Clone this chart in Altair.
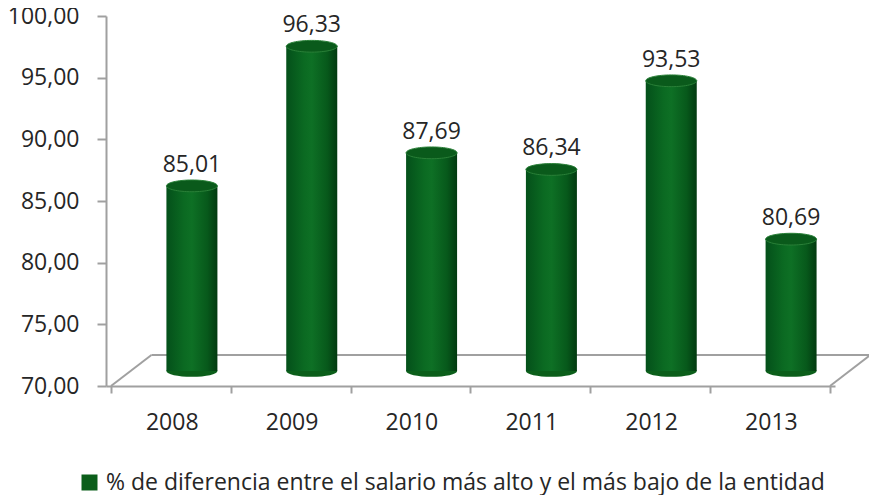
import altair as alt
import pandas as pd

years = ['2008', '2009', '2010', '2011', '2012', '2013']
values = [85.01, 96.33, 87.69, 86.34, 93.53, 80.69]
serie = '% de diferencia entre el salario más alto y el más bajo de la entidad'

df = pd.DataFrame({
    'pos': [i + 0.5 for i in range(len(years))],
    'year': years,
    'value': values,
    'base': [70] * len(years),
    'serie': [serie] * len(years),
})
df['label'] = [f"{v:.2f}".replace('.', ',') for v in values]

FONT = 'Open Sans'
FS = 23
TXT = '#262626'
GRAY = '#A0A0A0'
DX, DY = 21, -15          # 3D depth offset of the cylinders (px)
FDX, FDY = 41, -31        # 3D depth of the floor (px)
W, H = 729, 370
YMIN, YMAX = 70, 100
N = len(years)

years_js = '[' + ','.join(f"'{y}'" for y in years) + ']'

xscale = alt.Scale(domain=[0, N], nice=False, zero=False)
yscale = alt.Scale(domain=[YMIN, YMAX], nice=False, zero=False)

x_axis = alt.Axis(
    values=list(range(N + 1)),
    labelExpr=f"datum.value < {N} ? {years_js}[datum.value] : ''",
    labelOffset=W / N / 2,
    labelFont=FONT, labelFontSize=FS, labelColor=TXT, labelPadding=18,
    tickSize=7, tickColor=GRAY, tickWidth=2,
    domainColor=GRAY, domainWidth=2, grid=False, title=None,
)
y_axis = alt.Axis(
    values=[70, 75, 80, 85, 90, 95, 100],
    labelExpr="replace(format(datum.value, '.2f'), '.', ',')",
    labelFont=FONT, labelFontSize=FS, labelColor=TXT, labelPadding=18,
    tickSize=9, tickColor=GRAY, tickWidth=2,
    domainColor=GRAY, domainWidth=2, grid=False, title=None,
)

base = alt.Chart(df)

# floor (3D base plane), depth expressed in data units
dxu = FDX / (W / N)
dyu = -FDY / (H / (YMAX - YMIN))
floor_df = pd.DataFrame({
    'xa': [0, dxu, N],
    'xb': [dxu, N + dxu, N + dxu],
    'ya': [YMIN, YMIN + dyu, YMIN],
    'yb': [YMIN + dyu, YMIN + dyu, YMIN + dyu],
})
floor = alt.Chart(floor_df).mark_rule(color=GRAY, strokeWidth=2).encode(
    x=alt.X('xa:Q', scale=xscale, axis=x_axis),
    x2='xb:Q',
    y=alt.Y('ya:Q', scale=yscale, axis=y_axis),
    y2='yb:Q',
)

ellipse = "M-1,0 A1,0.23 0 1,1 1,0 A1,0.23 0 1,1 -1,0 Z"
CYL_W = 51

bottom = base.mark_point(shape=ellipse, size=CYL_W ** 2, filled=True, opacity=1,
                         xOffset=DX, yOffset=DY, strokeWidth=0).encode(
    x=alt.X('pos:Q', scale=xscale),
    y=alt.Y('base:Q', scale=yscale),
    color=alt.Color('serie:N', scale=alt.Scale(range=['#0B5E1A']),
                    legend=alt.Legend(
                        orient='none', legendX=-28, legendY=455, title=None,
                        symbolType='square', symbolSize=256, symbolStrokeWidth=0,
                        labelFont=FONT, labelFontSize=FS, labelColor=TXT,
                        labelLimit=2000, labelOffset=5, padding=0)),
)

gradient = alt.Gradient(
    gradient='linear', x1=0, x2=1, y1=0, y2=0,
    stops=[
        alt.GradientStop(color='#04501A', offset=0),
        alt.GradientStop(color='#0B6A22', offset=0.35),
        alt.GradientStop(color='#0E7025', offset=0.5),
        alt.GradientStop(color='#07591B', offset=0.8),
        alt.GradientStop(color='#023A10', offset=1),
    ],
)

bars = base.mark_bar(size=CYL_W, fill=gradient, xOffset=DX, yOffset=DY,
                     y2Offset=DY, strokeWidth=0).encode(
    x=alt.X('pos:Q', scale=xscale),
    y=alt.Y('value:Q', scale=yscale),
    y2='base:Q',
)

top = base.mark_point(shape=ellipse, size=CYL_W ** 2, filled=True, opacity=1,
                      fill='#0A5A1B', stroke='#2A8038', strokeWidth=1,
                      xOffset=DX, yOffset=DY).encode(
    x=alt.X('pos:Q', scale=xscale),
    y=alt.Y('value:Q', scale=yscale),
)

labels = base.mark_text(font=FONT, fontSize=FS, color=TXT, baseline='alphabetic',
                        align='center', dx=DX, dy=DY - 14).encode(
    x=alt.X('pos:Q', scale=xscale),
    y=alt.Y('value:Q', scale=yscale),
    text='label:N',
)

chart = alt.layer(
    floor, bottom, bars, top, labels
).properties(
    width=W, height=H,
    background='white',
    autosize=alt.AutoSizeParams(type='none'),
    padding={'left': 98, 'top': 8, 'right': 34, 'bottom': 109},
).configure_view(strokeWidth=0, stroke='transparent')

chart.save('out.html', embed_options={'renderer': 'svg', 'actions': False})
